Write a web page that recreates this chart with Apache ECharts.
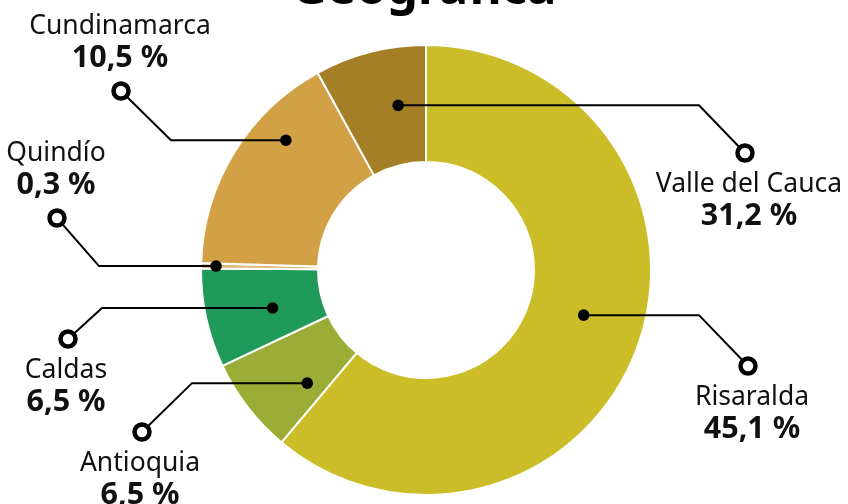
<!DOCTYPE html>
<html lang="es">
<head>
<meta charset="UTF-8">
<title>Geográfica</title>
<script src="https://cdn.jsdelivr.net/npm/echarts@6/dist/echarts.min.js"></script>
<style>html,body{margin:0;padding:0;background:#fff}</style>
</head>
<body>
<div id="main" style="width:848px;height:504px"></div>
<script>
// porciones en el orden del dibujo (sentido horario desde las 12)
var names = ["Risaralda", "Antioquia", "Caldas", "Quindío", "Cundinamarca", "Valle del Cauca"];
var shares = [61.1, 6.9, 7.1, 0.4, 16.5, 8.0];
var pctLabels = ["45,1 %", "6,5 %", "6,5 %", "0,3 %", "10,5 %", "31,2 %"];
var colors = ["#cbbd28", "#9bad37", "#1f9a5a", "#dfb87c", "#d2a145", "#a47f25"];

var cx = 426, cy = 270, rIn = 108, rOut = 225;
var font = "'Noto Sans'";

// donde va cada anotacion
var callouts = [
    {da: -4,  r: 164, elbowX: 699, ringX: 748, ringY: 366, textBelow: true,  tdx: 4},
    {da: -6,  r: 164, elbowX: 192, ringX: 142, ringY: 432, textBelow: true,  tdx: -2},
    {da: -1.5,r: 158, elbowX: 102, ringX: 68,  ringY: 339, textBelow: true,  tdx: -2},
    {da: 0,   r: 210, elbowX: 99,  ringX: 57,  ringY: 218, textBelow: false, tdx: -1},
    {da: 11.3,r: 191, elbowX: 171, ringX: 121, ringY: 91,  textBelow: false, tdx: -1},
    {da: 4.8, r: 167, elbowX: 699, ringX: 745, ringY: 153, textBelow: true,  tdx: 4}
];

var total = 0;
for (var i = 0; i < shares.length; i++) total += shares[i];

var graphics = [{
    type: "text",
    left: "center",
    top: -34,
    style: {text: "Geográfica", font: "bold 49px " + font, fill: "#000"}
}];

var acc = 0;
for (var i = 0; i < shares.length; i++) {
    var mid = (acc + shares[i] / 2) / total * 360;
    acc += shares[i];
    var c = callouts[i];
    var a = (mid + c.da) * Math.PI / 180;
    var dx = cx + c.r * Math.sin(a);
    var dy = cy - c.r * Math.cos(a);
    graphics.push({
        type: "polyline", z: 10,
        shape: {points: [[dx, dy], [c.elbowX, dy], [c.ringX, c.ringY]]},
        style: {stroke: "#000", lineWidth: 2, fill: null}
    });
    graphics.push({type: "circle", z: 11, shape: {cx: dx, cy: dy, r: 5.8}, style: {fill: "#000"}});
    graphics.push({type: "circle", z: 11, shape: {cx: c.ringX, cy: c.ringY, r: 7.5},
        style: {fill: "#fff", stroke: "#000", lineWidth: 4.5}});
    var yName = c.textBelow ? c.ringY + 31 : c.ringY - 65;
    graphics.push({type: "text", z: 11, x: c.ringX + c.tdx, y: yName,
        style: {text: names[i], font: "26.5px " + font, fill: "#111", align: "center", verticalAlign: "middle"}});
    graphics.push({type: "text", z: 11, x: c.ringX + c.tdx, y: yName + 32,
        style: {text: pctLabels[i], font: "bold 30.5px " + font, fill: "#111", align: "center", verticalAlign: "middle"}});
}

var myChart = echarts.init(document.getElementById("main"));
var pieData = [];
for (var i = 0; i < names.length; i++) {
    pieData.push({name: names[i], value: shares[i], itemStyle: {color: colors[i]}});
}
myChart.setOption({
    animation: false,
    series: [{
        type: "pie",
        silent: true,
        center: [cx, cy],
        radius: [rIn, rOut],
        startAngle: 90,
        clockwise: true,
        label: {show: false},
        labelLine: {show: false},
        itemStyle: {borderColor: "#fff", borderWidth: 2},
        data: pieData
    }],
    graphic: graphics
});
</script>
</body>
</html>
